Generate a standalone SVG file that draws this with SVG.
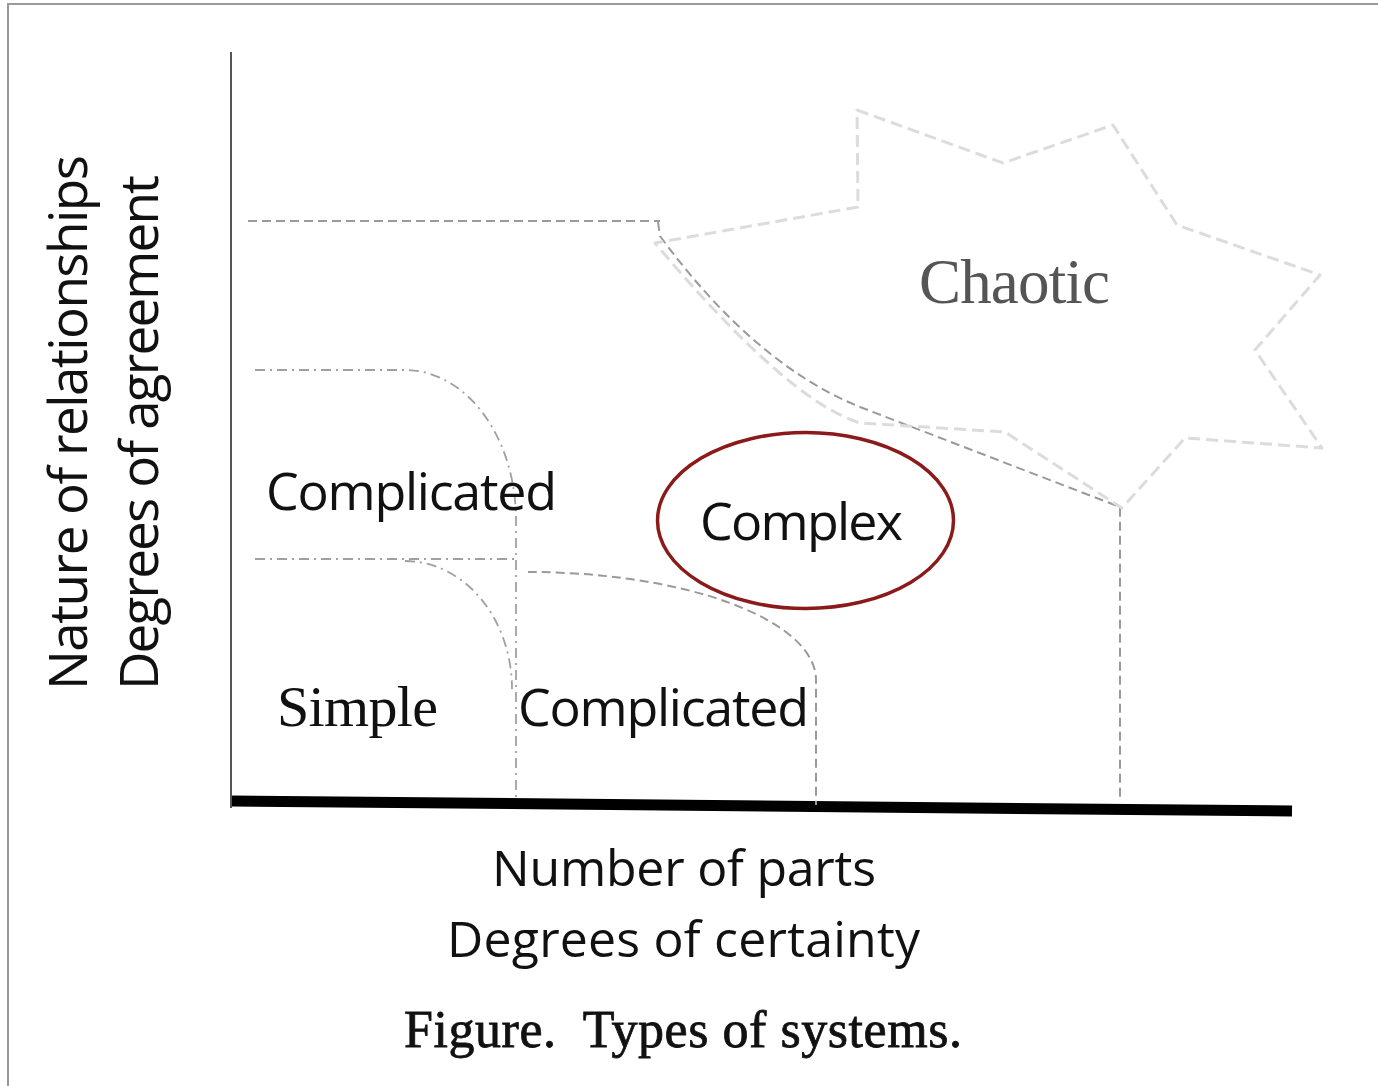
<svg xmlns="http://www.w3.org/2000/svg" width="1378" height="1086" viewBox="0 0 1378 1086">
  <style>
    .sans { font-family: "Open Sans", "Liberation Sans", sans-serif; fill: #111; }
    .serif { font-family: "Liberation Serif", "Times New Roman", serif; fill: #111; }
    .dash { fill: none; stroke: #9a9a9a; stroke-width: 2; stroke-dasharray: 9 5; }
    .dashdot { fill: none; stroke: #a0a0a0; stroke-width: 1.8; stroke-dasharray: 10 5 2 5; }
    .star { fill: none; stroke: #dcdcdc; stroke-width: 3; stroke-dasharray: 12 6; stroke-linejoin: round; }
  </style>

  <!-- page frame -->
  <rect x="8" y="4" width="1400" height="1100" fill="#fff" stroke="#9a9a9a" stroke-width="2"/>

  <!-- axes -->
  <g id="axes">
    <line x1="231" y1="52" x2="231" y2="808" stroke="#555" stroke-width="2"/>
    <line x1="232" y1="801" x2="1292" y2="811" stroke="#000" stroke-width="11"/>
  </g>

  <!-- region boundaries -->
  <g id="connectors">
    <!-- chaotic boundary -->
    <line class="dash" x1="248" y1="221" x2="660" y2="221"/>
    <path class="dash" d="M658,222 L660,236 Q754,364 860,407 L1120,507 V800"/>
    <!-- upper complicated boundary -->
    <path class="dashdot" d="M255,370 H405 A111,150 0 0 1 516,520 V800"/>
    <!-- simple boundary -->
    <path class="dashdot" d="M255,559 H516"/>
    <path class="dashdot" d="M405,561 A107,128 0 0 1 512,689"/>
    <!-- lower complicated boundary -->
    <path class="dash" d="M528,572 A288,108 0 0 1 816,680 V805"/>
  </g>

  <!-- chaotic star -->
  <g id="chaotic">
    <path class="star" d="M857,110 L1003,163 L1113,125 L1177,225 L1320,275 L1255,350 L1322,448 L1185,438 L1122,508 L1005,432 L860,423 Q788,401 655,243 L858,207 Z"/>
    <text class="serif" x="919" y="303" font-size="63" textLength="191" style="fill:#555">Chaotic</text>
  </g>

  <!-- complex -->
  <g id="complex">
    <ellipse cx="805.5" cy="520.5" rx="148" ry="88" fill="none" stroke="#8b1a1a" stroke-width="3.5"/>
    <text class="sans" x="700" y="540" font-size="52" textLength="203">Complex</text>
  </g>

  <g id="complicated-upper">
    <text class="sans" x="266" y="510" font-size="52" textLength="291">Complicated</text>
  </g>

  <g id="simple">
    <text class="serif" x="277" y="726" font-size="58" textLength="161">Simple</text>
  </g>

  <g id="complicated-lower">
    <text class="sans" x="518" y="726" font-size="52" textLength="291">Complicated</text>
  </g>

  <!-- axis labels -->
  <g id="y-labels">
    <text class="sans" transform="translate(87,690) rotate(-90)" font-size="53" textLength="535">Nature of relationships</text>
    <text class="sans" transform="translate(158,690) rotate(-90)" font-size="53" textLength="515">Degrees of agreement</text>
  </g>

  <g id="x-labels">
    <text class="sans" x="492" y="886" font-size="50" textLength="384">Number of parts</text>
    <text class="sans" x="447" y="957" font-size="50" textLength="473">Degrees of certainty</text>
  </g>

  <g id="caption">
    <text class="serif" x="404" y="1047" font-size="52" textLength="558" stroke="#111" stroke-width="0.8" xml:space="preserve">Figure.  Types of systems.</text>
  </g>
</svg>
